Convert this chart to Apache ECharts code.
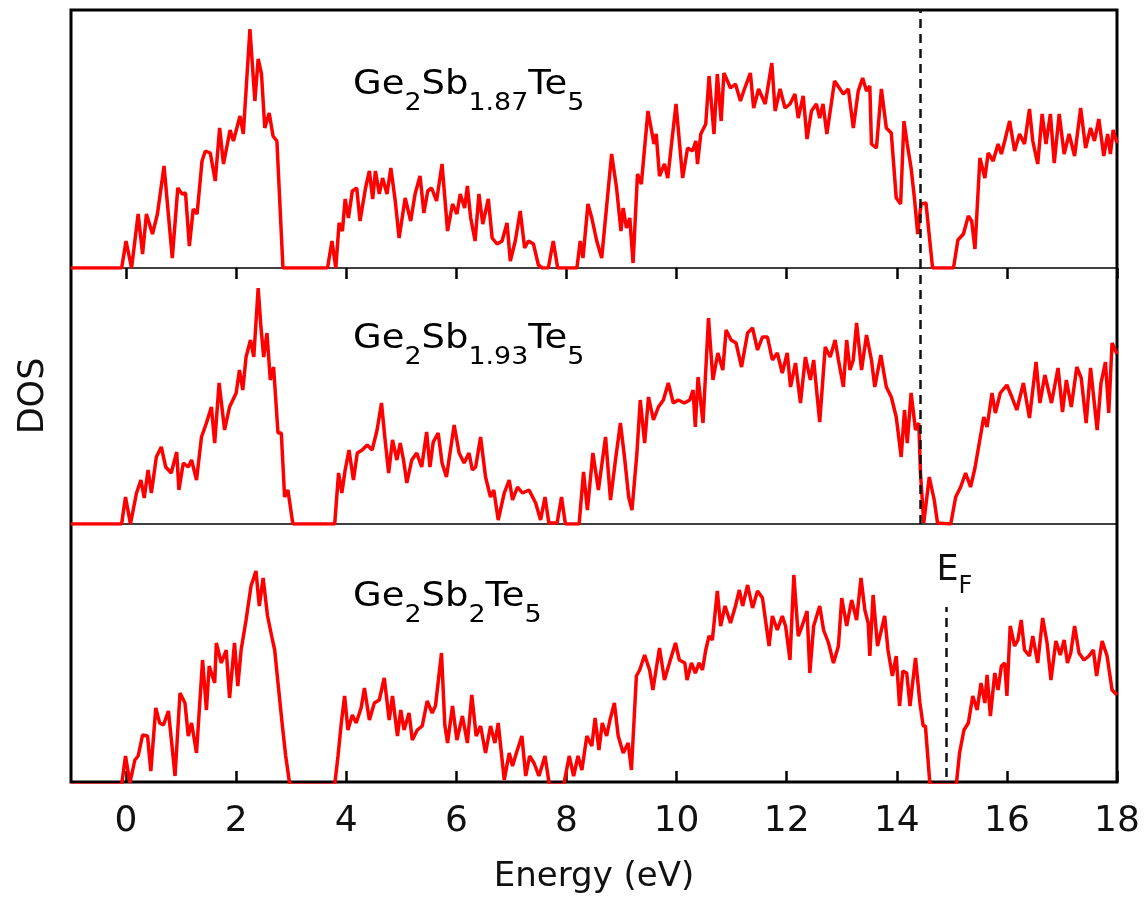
<!DOCTYPE html>
<html>
<head>
<meta charset="utf-8">
<script src="https://cdn.jsdelivr.net/npm/echarts@6/dist/echarts.min.js"></script>
<style>
  html, body { margin: 0; padding: 0; background: #fff; }
  #chart { width: 1147px; height: 902px; }
</style>
</head>
<body>
<div id="chart"></div>
<script>
// Ge2Sb1.87Te5 (top panel)
var energy187 = [-1.0, -0.08, 0.0, 0.1, 0.22, 0.3, 0.37, 0.48, 0.57, 0.69, 0.84, 0.94, 1.02, 1.08, 1.15, 1.22, 1.29, 1.38, 1.44, 1.53, 1.62, 1.70, 1.77, 1.89, 1.95, 2.07, 2.13, 2.25, 2.34, 2.40, 2.46, 2.52, 2.60, 2.67, 2.74, 2.85,
  3.66, 3.74, 3.81, 3.87, 3.93, 3.98, 4.04, 4.11, 4.19, 4.25, 4.35, 4.42, 4.48, 4.53, 4.60, 4.66, 4.74, 4.81, 4.89, 4.96, 5.07, 5.17, 5.25, 5.34, 5.41, 5.48, 5.55, 5.64, 5.74, 5.84, 5.93, 6.01, 6.07, 6.15, 6.20, 6.26, 6.34, 6.41, 6.48, 6.58, 6.65, 6.74, 6.83, 6.92, 6.98, 7.07, 7.16, 7.24, 7.31, 7.40, 7.49, 7.56, 7.67, 7.76, 7.84,
  8.19, 8.25, 8.30, 8.39, 8.46, 8.55, 8.64, 8.82, 8.91, 8.99, 9.03, 9.09, 9.15, 9.21, 9.29, 9.36, 9.48, 9.59, 9.63, 9.69, 9.78, 9.84, 9.90, 9.99, 10.11, 10.20, 10.29, 10.35, 10.38, 10.44, 10.53, 10.59, 10.68, 10.74, 10.81, 10.86, 10.98, 11.07, 11.16, 11.22, 11.34, 11.40, 11.49, 11.61, 11.73, 11.79, 11.88, 11.97, 12.06, 12.15, 12.21, 12.30, 12.37, 12.45, 12.54, 12.60, 12.66, 12.73, 12.87,
  13.03, 13.12, 13.21, 13.30, 13.38, 13.45, 13.51, 13.54, 13.63, 13.72, 13.81, 13.90, 13.99, 14.07, 14.13, 14.19, 14.26, 14.32, 14.38, 14.44, 14.53, 14.65,
  15.03, 15.11, 15.21, 15.30, 15.36, 15.42, 15.51, 15.60, 15.66, 15.75, 15.84, 15.90, 15.96, 16.05, 16.14, 16.23, 16.32, 16.41, 16.47, 16.56, 16.64, 16.71, 16.79, 16.86, 16.95, 17.04, 17.13, 17.23, 17.34, 17.43, 17.52, 17.59, 17.67, 17.76, 17.83, 17.88, 17.93, 18.0];
var dos187 = [0, 0, 27, 0, 54, 14, 54, 34, 54, 102, 10, 80, 74, 75, 22, 59, 54, 107, 117, 115, 87, 140, 104, 138, 127, 152, 134, 239, 167, 209, 194, 140, 155, 132, 127, 0,
  0, 27, 0, 45, 37, 69, 50, 77, 80, 47, 80, 97, 69, 97, 74, 90, 74, 100, 67, 30, 70, 47, 74, 92, 55, 77, 80, 67, 104, 37, 64, 54, 74, 60, 82, 50, 27, 74, 44, 69, 30, 24, 27, 45, 7, 27, 57, 20, 27, 24, 3, 0, 0, 27, 0,
  0, 27, 10, 64, 50, 27, 10, 114, 80, 37, 60, 40, 50, 5, 94, 84, 157, 124, 134, 92, 104, 90, 120, 164, 90, 120, 117, 127, 104, 134, 144, 192, 134, 194, 147, 195, 180, 184, 167, 177, 195, 160, 179, 164, 205, 157, 179, 160, 164, 174, 150, 172, 129, 157, 164, 150, 164, 134, 187,
  174, 179, 140, 177, 190, 177, 182, 124, 120, 179, 140, 135, 70, 64, 147, 124, 100, 70, 34, 64, 65, 0,
  0, 28, 34, 52, 47, 19, 110, 90, 115, 107, 124, 114, 127, 147, 117, 134, 124, 159, 127, 104, 154, 124, 154, 105, 154, 114, 134, 112, 160, 120, 140, 127, 149, 112, 134, 114, 138, 125];

// Ge2Sb1.93Te5 (middle panel)
var energy193 = [-1.0, -0.08, -0.01, 0.08, 0.19, 0.27, 0.33, 0.40, 0.46, 0.55, 0.64, 0.72, 0.82, 0.92, 0.96, 1.04, 1.13, 1.19, 1.28, 1.37, 1.46, 1.55, 1.61, 1.69, 1.79, 1.88, 1.94, 2.00, 2.06, 2.12, 2.18, 2.26, 2.32, 2.40, 2.45, 2.50, 2.56, 2.62, 2.68, 2.76, 2.82, 2.88, 2.94, 3.03,
  3.79, 3.86, 3.92, 3.98, 4.05, 4.13, 4.20, 4.29, 4.38, 4.47, 4.56, 4.64, 4.70, 4.77, 4.84, 4.92, 4.98, 5.04, 5.10, 5.19, 5.28, 5.37, 5.46, 5.52, 5.58, 5.67, 5.74, 5.82, 5.96, 6.05, 6.14, 6.23, 6.29, 6.35, 6.44, 6.53, 6.62, 6.68, 6.76, 6.87, 6.96, 7.02, 7.11, 7.20, 7.32, 7.44, 7.53, 7.61, 7.68, 7.83, 7.91, 7.98,
  8.23, 8.31, 8.38, 8.48, 8.58, 8.71, 8.80, 8.89, 8.98, 9.06, 9.13, 9.19, 9.28, 9.34, 9.42, 9.49, 9.58, 9.67, 9.76, 9.85, 9.94, 10.03, 10.14, 10.24, 10.30, 10.34, 10.39, 10.48, 10.58, 10.66, 10.75, 10.84, 10.90, 10.99, 11.08, 11.18, 11.29, 11.38, 11.47, 11.56, 11.65, 11.74, 11.83, 11.92, 12.01, 12.07, 12.16, 12.25, 12.34, 12.43, 12.49, 12.60, 12.70, 12.79, 12.88, 12.94,
  13.03, 13.09, 13.15, 13.21, 13.27, 13.36, 13.45, 13.54, 13.60, 13.71, 13.81, 13.90, 13.99, 14.08, 14.14, 14.19, 14.26, 14.34, 14.40, 14.43, 14.49, 14.59, 14.68, 14.74,
  14.98, 15.07, 15.16, 15.25, 15.34, 15.42, 15.58, 15.64, 15.73, 15.79, 15.88, 16.00, 16.09, 16.18, 16.30, 16.41, 16.53, 16.60, 16.69, 16.81, 16.93, 17.01, 17.08, 17.17, 17.27, 17.35, 17.44, 17.52, 17.64, 17.71, 17.79, 17.85, 17.91, 18.0];
var dos193 = [0, 0, 27, 0, 31, 44, 26, 54, 31, 67, 77, 57, 51, 72, 34, 61, 57, 64, 44, 87, 101, 117, 81, 141, 94, 117, 124, 131, 154, 134, 167, 184, 167, 236, 197, 167, 191, 144, 157, 91, 91, 27, 34, 0,
  0, 51, 31, 54, 74, 44, 71, 74, 79, 74, 94, 121, 87, 51, 84, 64, 81, 64, 41, 64, 71, 57, 92, 57, 82, 91, 61, 47, 99, 71, 61, 71, 54, 57, 87, 47, 27, 34, 4, 31, 44, 24, 37, 31, 34, 21, 4, 27, 1, 1, 27, 0,
  0, 52, 14, 71, 34, 87, 24, 64, 101, 64, 27, 14, 71, 124, 81, 127, 104, 117, 124, 141, 121, 124, 121, 124, 134, 97, 147, 101, 206, 144, 171, 154, 194, 184, 181, 157, 191, 196, 174, 187, 187, 164, 171, 151, 171, 137, 161, 121, 167, 144, 164, 102, 177, 167, 184, 164,
  137, 184, 154, 164, 201, 154, 189, 164, 137, 169, 137, 127, 107, 67, 114, 81, 131, 94, 101, 51, 1, 47, 24, 1,
  0, 27, 37, 51, 37, 56, 107, 97, 131, 111, 131, 139, 127, 114, 141, 106, 162, 121, 149, 121, 156, 112, 144, 117, 157, 146, 101, 156, 94, 141, 162, 111, 181, 170];

// Ge2Sb2Te5 (bottom panel)
var energy2 = [-1.0, -0.08, -0.01, 0.07, 0.16, 0.22, 0.30, 0.39, 0.45, 0.54, 0.61, 0.68, 0.77, 0.89, 0.98, 1.07, 1.13, 1.19, 1.28, 1.39, 1.46, 1.51, 1.61, 1.64, 1.73, 1.82, 1.88, 1.97, 2.03, 2.09, 2.18, 2.27, 2.36, 2.42, 2.49, 2.57, 2.66, 2.70, 2.76, 2.84, 2.90, 2.97, 3.01,
  3.79, 3.85, 3.91, 3.97, 4.03, 4.11, 4.18, 4.27, 4.33, 4.42, 4.51, 4.60, 4.69, 4.78, 4.84, 4.93, 4.99, 5.05, 5.14, 5.20, 5.29, 5.38, 5.47, 5.56, 5.62, 5.73, 5.79, 5.84, 5.93, 6.01, 6.11, 6.20, 6.28, 6.36, 6.44, 6.53, 6.62, 6.70, 6.76, 6.87, 6.96, 7.02, 7.09, 7.19, 7.26, 7.33, 7.41, 7.50, 7.61, 7.69,
  7.95, 8.05, 8.13, 8.21, 8.28, 8.37, 8.46, 8.52, 8.59, 8.65, 8.73, 8.79, 8.87, 8.94, 9.03, 9.12, 9.18, 9.27, 9.33, 9.42, 9.51, 9.57, 9.69, 9.78, 9.87, 9.98, 10.05, 10.15, 10.19, 10.27, 10.34, 10.41, 10.47, 10.53, 10.59, 10.65, 10.74, 10.80, 10.88, 10.98, 11.07, 11.14, 11.20, 11.29, 11.38, 11.47, 11.56, 11.68, 11.74, 11.83, 11.92, 11.98, 12.06, 12.13, 12.21, 12.28, 12.37, 12.42, 12.49, 12.60, 12.67, 12.76, 12.85,
  12.94, 13.00, 13.09, 13.18, 13.27, 13.35, 13.42, 13.48, 13.51, 13.57, 13.65, 13.72, 13.78, 13.84, 13.92, 13.99, 14.05, 14.11, 14.18, 14.24, 14.34, 14.42, 14.48, 14.52, 14.60, 14.64,
  15.08, 15.14, 15.22, 15.30, 15.38, 15.46, 15.53, 15.60, 15.64, 15.70, 15.78, 15.84, 15.90, 15.96, 16.00, 16.06, 16.14, 16.20, 16.26, 16.32, 16.41, 16.47, 16.56, 16.65, 16.73, 16.80, 16.89, 16.97, 17.04, 17.10, 17.16, 17.23, 17.31, 17.40, 17.49, 17.57, 17.63, 17.73, 17.82, 17.91, 18.0];
var dos2 = [0, 0, 29, 2, 25, 29, 50, 49, 14, 77, 62, 60, 74, 9, 92, 82, 49, 62, 32, 125, 75, 119, 102, 142, 122, 135, 87, 142, 99, 135, 165, 199, 214, 179, 207, 169, 145, 135, 102, 59, 29, 2, 0,
  0, 29, 62, 89, 55, 70, 62, 77, 97, 65, 82, 85, 107, 65, 89, 49, 75, 55, 72, 45, 55, 59, 84, 72, 79, 132, 60, 42, 79, 45, 69, 42, 90, 49, 59, 32, 59, 42, 62, 5, 32, 19, 32, 49, 9, 29, 22, 9, 29, 0,
  0, 29, 9, 29, 15, 49, 39, 67, 35, 62, 49, 65, 82, 49, 32, 42, 15, 109, 115, 130, 115, 95, 137, 105, 122, 142, 125, 122, 105, 122, 112, 122, 115, 135, 149, 145, 194, 159, 179, 162, 179, 195, 179, 200, 177, 194, 187, 139, 169, 155, 169, 159, 125, 210, 149, 159, 174, 112, 159, 179, 155, 142, 122,
  139, 187, 159, 185, 165, 207, 175, 162, 129, 190, 139, 155, 169, 135, 109, 129, 79, 114, 112, 79, 127, 82, 59, 59, 2, 0,
  0, 32, 55, 62, 89, 75, 102, 82, 110, 69, 112, 95, 119, 122, 89, 159, 139, 145, 165, 135, 129, 149, 122, 167, 142, 105, 144, 130, 145, 122, 132, 159, 132, 125, 129, 135, 109, 144, 129, 95, 90];

var tickValues = [0, 2, 4, 6, 8, 10, 12, 14, 16, 18];
var fermiTop = 14.42;      // dashed line, top two panels
var fermiBottom = 14.9;    // dashed line, Ge2Sb2Te5

var FONT = 'DejaVu Sans';

function pairs(xs, ys) {
  var out = [];
  for (var i = 0; i < xs.length; i++) {
    out.push([xs[i], ys[i]]);
  }
  return out;
}

var formulaRich = {
  m: { fontSize: 33, fontFamily: FONT, color: '#111', verticalAlign: 'bottom', lineHeight: 40, padding: [0, 0, 14, 0] },
  s: { fontSize: 24, fontFamily: FONT, color: '#111', verticalAlign: 'bottom', lineHeight: 40 }
};

var redLine = { color: '#ff0000', width: 3.5 };
var dashStyle = { color: '#111', type: [9, 6], width: 2.5 };

var chart = echarts.init(document.getElementById('chart'));

var panelGrid = { left: 71, right: 30, show: true, borderColor: '#333', borderWidth: 1.5, backgroundColor: 'transparent' };

var option = {
  animation: false,
  backgroundColor: '#fff',
  grid: [
    Object.assign({ top: 10, height: 258 }, panelGrid),
    Object.assign({ top: 268, height: 256 }, panelGrid),
    Object.assign({ top: 524, height: 258 }, panelGrid),
    { left: 71, right: 30, top: 10, height: 772, show: true, borderColor: '#000', borderWidth: 3, backgroundColor: 'transparent' }
  ],
  xAxis: [
    {
      gridIndex: 0, type: 'value', min: -1, max: 18, position: 'top',
      axisLine: { show: false }, splitLine: { show: false },
      axisTick: { show: true, inside: true, length: 11, customValues: tickValues, lineStyle: { color: '#000', width: 2.5 } },
      axisLabel: { show: false }
    },
    {
      gridIndex: 1, type: 'value', min: -1, max: 18,
      axisLine: { show: false }, splitLine: { show: false },
      axisTick: { show: false }, axisLabel: { show: false }
    },
    {
      gridIndex: 2, type: 'value', min: -1, max: 18, position: 'bottom',
      axisLine: { show: false }, splitLine: { show: false },
      axisTick: { show: true, inside: true, length: 11, customValues: tickValues, lineStyle: { color: '#000', width: 2.5 } },
      axisLabel: { show: true, customValues: tickValues, fontSize: 36, fontFamily: FONT, color: '#111', margin: 22 },
      name: 'Energy (eV)', nameLocation: 'middle', nameGap: 78,
      nameTextStyle: { fontSize: 34, fontFamily: FONT, color: '#111' }
    },
    { gridIndex: 3, type: 'value', min: -1, max: 18, show: false }
  ],
  yAxis: [
    { gridIndex: 0, type: 'value', min: 0, max: 258, show: false },
    {
      gridIndex: 1, type: 'value', min: 0, max: 256,
      axisLine: { show: false }, axisTick: { show: false }, axisLabel: { show: false }, splitLine: { show: false },
      name: 'DOS', nameLocation: 'middle', nameGap: 20,
      nameTextStyle: { fontSize: 35, fontFamily: FONT, color: '#111' }
    },
    { gridIndex: 2, type: 'value', min: 3, max: 261, show: false },
    { gridIndex: 3, type: 'value', min: 0, max: 1, show: false }
  ],
  series: [
    {
      name: 'Ge2Sb1.87Te5', type: 'line', xAxisIndex: 0, yAxisIndex: 0,
      data: pairs(energy187, dos187), showSymbol: false, clip: true,
      lineStyle: redLine,
      markLine: { silent: true, symbol: ['none', 'none'], lineStyle: dashStyle, label: { show: false }, data: [{ xAxis: fermiTop }] }
    },
    {
      name: 'Ge2Sb1.93Te5', type: 'line', xAxisIndex: 1, yAxisIndex: 1,
      data: pairs(energy193, dos193), showSymbol: false, clip: true,
      lineStyle: redLine,
      markLine: { silent: true, symbol: ['none', 'none'], lineStyle: dashStyle, label: { show: false }, data: [{ xAxis: fermiTop }] }
    },
    {
      name: 'Ge2Sb2Te5', type: 'line', xAxisIndex: 2, yAxisIndex: 2,
      data: pairs(energy2, dos2), showSymbol: false, clip: true,
      lineStyle: redLine,
      markLine: {
        silent: true, symbol: ['none', 'none'], lineStyle: dashStyle,
        label: {
          show: true, position: 'end', distance: 8,
          formatter: '{e|E}{f|F}',
          rich: {
            e: { fontSize: 35, fontFamily: FONT, color: '#111', verticalAlign: 'bottom', lineHeight: 40, padding: [0, 0, 11, 16] },
            f: { fontSize: 24, fontFamily: FONT, color: '#111', verticalAlign: 'bottom', lineHeight: 40 }
          }
        },
        data: [[{ coord: [fermiBottom, 8] }, { coord: [fermiBottom, 178] }]]
      }
    }
  ],
  graphic: [
    { type: 'text', left: 353, top: 69, scaleX: 1.12, style: { text: '{m|Ge}{s|2}{m|Sb}{s|1.87}{m|Te}{s|5}', rich: formulaRich } },
    { type: 'text', left: 353, top: 323, scaleX: 1.12, style: { text: '{m|Ge}{s|2}{m|Sb}{s|1.93}{m|Te}{s|5}', rich: formulaRich } },
    { type: 'text', left: 353, top: 581, scaleX: 1.12, style: { text: '{m|Ge}{s|2}{m|Sb}{s|2}{m|Te}{s|5}', rich: formulaRich } }
  ]
};

chart.setOption(option);
</script>
</body>
</html>
